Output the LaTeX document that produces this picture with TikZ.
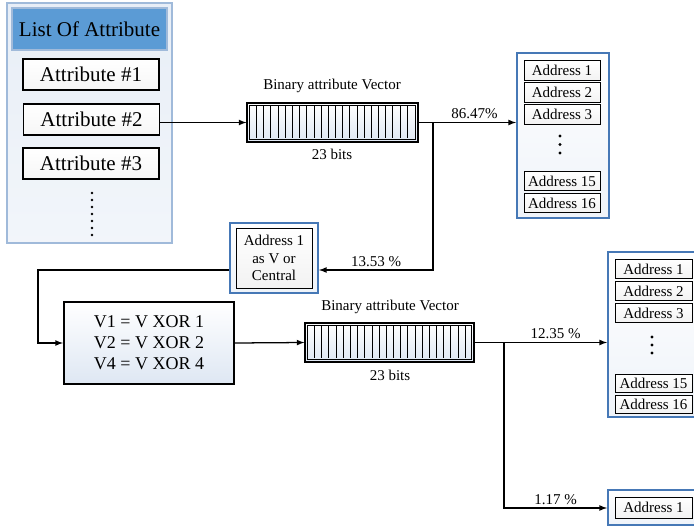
\documentclass[tikz,border=0pt]{standalone}
\usepackage{fontspec}
\setmainfont{Liberation Serif}
\usepackage{tikz}
\usepackage{xcolor}
\definecolor{bleuCadre}{RGB}{70,120,182}
\definecolor{bleuClair}{RGB}{160,186,218}
\definecolor{bleuTitre}{RGB}{91,155,213}
\definecolor{fondBoite}{RGB}{222,231,243}

\begin{document}
\begin{tikzpicture}[x=0.75pt,y=-0.75pt]
% Styles
\tikzstyle{fleche}=[->,>=latex,line width=0.95pt]
\tikzstyle{trait}=[line width=0.95pt]
\tikzstyle{grand}=[font=\fontsize{15.75}{18}\selectfont]
\tikzstyle{moyen}=[font=\fontsize{13.5}{15.75}\selectfont]
\tikzstyle{petit}=[font=\fontsize{11.25}{13.1}\selectfont]
\tikzstyle{liste}=[draw=bleuClair,line width=1.2pt,top color=fondBoite!70,bottom color=fondBoite!40,inner sep=0pt]
\tikzstyle{titre}=[draw=bleuClair,fill=bleuTitre,line width=0.8pt,inner sep=0pt,grand]
\tikzstyle{attribut}=[draw,line width=0.8pt,top color=white,bottom color=gray!7,inner sep=0pt,grand]
\tikzstyle{vecteur}=[draw,line width=0.9pt,top color=white,bottom color=fondBoite,inner sep=0pt]
\tikzstyle{groupe}=[draw=bleuCadre,line width=1.5pt,top color=white,bottom color=fondBoite!50,inner sep=0pt]
\tikzstyle{adresse}=[draw,line width=0.7pt,top color=white,bottom color=gray!10,inner sep=0pt,petit]
\tikzstyle{calcul}=[draw,line width=1.6pt,top color=white,bottom color=fondBoite,inner sep=0pt,align=center,moyen]
\tikzstyle{etiquette}=[midway,above,inner sep=2pt,petit]
% Dimensions
\def\LargeurCase{7.174}
\def\HauteurCase{33}
\useasboundingbox (0,0) rectangle (694,529);
\clip (0,0) rectangle (694,529);
% List of attributes
\node[liste,minimum width=123.75pt,minimum height=180pt] (lst) at (89.5,123) {};
\node[titre,minimum width=116.25pt,minimum height=31.5pt] (hdr) at (89.5,29) {List Of Attribute};
\node[attribut,minimum width=102pt,minimum height=23.25pt] (att1) at (91,74.5) {Attribute \#1};
\node[attribut,minimum width=102pt,minimum height=23.25pt] (att2) at (91.5,119.5) {Attribute \#2};
\node[attribut,minimum width=102pt,minimum height=23.25pt] (att3) at (91,163.5) {Attribute \#3};
\foreach \y in {193,200,...,235} \fill (92,\y) circle (1.4);
% Vectors
\node[vecteur,minimum width=128.25pt,minimum height=29.25pt] (vec1) at (332.5,122.5) {};
\node[vecteur,minimum width=126.75pt,minimum height=29.25pt] (vec2) at (389.5,342.5) {};
\foreach \v in {vec1,vec2} {
  \draw[line width=0.7pt] ([shift={(3,3)}]\v.north west) rectangle ([shift={(-3,-3)}]\v.south east);
  \foreach \i in {1,...,22}
    \draw[line width=0.7pt] ([shift={(3+\i*\LargeurCase,3)}]\v.north west) -- ++(0,\HauteurCase);
}
\node[petit] (tv1) at (332,86) {Binary attribute Vector};
\node[petit] (nb1) at (332,154) {23 bits};
\node[petit] (tv2) at (390,307) {Binary attribute Vector};
\node[petit] (nb2) at (390,375) {23 bits};
% Address groups
\node[groupe,minimum width=69pt,minimum height=123.75pt] (grp1) at (563,135.5) {};
\node[adresse,minimum width=57pt,minimum height=14.6pt] (g1a1) at (562,70.5) {Address 1};
\node[adresse,minimum width=57pt,minimum height=14.6pt] (g1a2) at (562,92.5) {Address 2};
\node[adresse,minimum width=57pt,minimum height=14.6pt] (g1a3) at (562,114.5) {Address 3};
\node[adresse,minimum width=57pt,minimum height=14.6pt] (g1a15) at (562,181) {Address 15};
\node[adresse,minimum width=57pt,minimum height=14.6pt] (g1a16) at (562,203) {Address 16};
\foreach \y in {136,144.5,153} \fill (560,\y) circle (1.6);
\node[groupe,minimum width=69pt,minimum height=123.75pt] (grp2) at (654,334.5) {};
\node[adresse,minimum width=57.75pt,minimum height=14pt] (g2a1) at (653.5,269) {Address 1};
\node[adresse,minimum width=57.75pt,minimum height=14pt] (g2a2) at (653.5,291) {Address 2};
\node[adresse,minimum width=57.75pt,minimum height=14pt] (g2a3) at (653.5,313) {Address 3};
\node[adresse,minimum width=57.75pt,minimum height=14pt] (g2a15) at (653.5,383.5) {Address 15};
\node[adresse,minimum width=57.75pt,minimum height=14pt] (g2a16) at (653.5,404.5) {Address 16};
\foreach \y in {337,345,353} \fill (652,\y) circle (1.6);
\node[groupe,minimum width=69pt,minimum height=26.25pt] (grp3) at (654,507.5) {};
\node[adresse,minimum width=57.75pt,minimum height=15.75pt] (g3a1) at (653.5,507.5) {Address 1};
% Central address and XOR block
\node[groupe,minimum width=66pt,minimum height=52.5pt] (addv) at (274,258) {};
\node[adresse,minimum width=57pt,minimum height=45pt,align=center] (addvi) at (274,258) {Address 1\\as V or\\Central};
\node[calcul,minimum width=127.5pt,minimum height=61.5pt] (xor) at (149,343) {V1 = V XOR 1\\V2 = V XOR 2\\V4 = V XOR 4};
% Junctions
\coordinate (j1) at (433,122.5);
\coordinate (k1) at (433,270);
\coordinate (k2) at (38,270);
\coordinate (j2) at (504,342.5);
\coordinate (k3) at (504,508);
% Connectors
\draw[fleche] (att2.east |- vec1.west) -- (vec1.west);
\draw[trait] (vec1.east) -- (j1);
\draw[fleche] (j1) -- (j1 -| grp1.west) node[etiquette] {86.47\%};
\draw[fleche] (j1) -- (k1) -- (k1 -| addv.east) node[etiquette] {13.53 \%};
\draw[fleche] (addv.west |- k2) -- (k2) |- (xor.west);
\draw[fleche] (xor.east) -- (vec2.west);
\draw[trait] (vec2.east) -- (j2);
\draw[fleche] (j2) -- (j2 -| grp2.west) node[etiquette] {12.35 \%};
\draw[fleche] (j2) -- (k3) -- (k3 -| grp3.west) node[etiquette] {1.17 \%};
\end{tikzpicture}
\end{document}
